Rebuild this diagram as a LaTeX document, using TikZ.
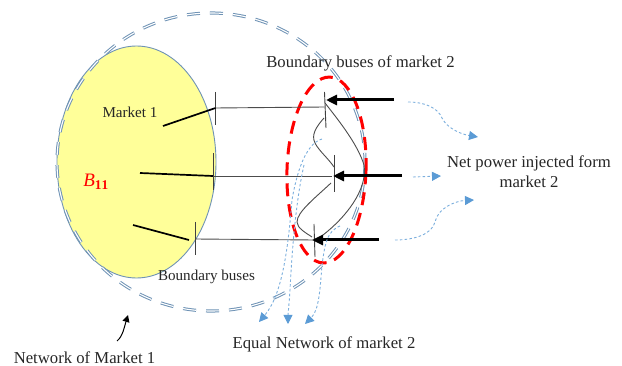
\documentclass[tikz,border=0pt]{standalone}
\usepackage{fontspec}
\setmainfont{Liberation Serif}
\usetikzlibrary{arrows.meta,shapes.geometric}
\definecolor{netblue}{HTML}{6F93B5}
\definecolor{flowblue}{HTML}{5B9BD5}
\definecolor{marketyellow}{HTML}{FFFF99}
\tikzset{
  lbl/.style={inner sep=0pt,text=black!85,font=\fontsize{16.7}{19}\selectfont},
  lblsmall/.style={inner sep=0pt,text=black!85,font=\fontsize{15.1}{17}\selectfont},
  busbar/.style={draw=black!75,line width=0.9pt},
  tie/.style={draw=black!70,line width=0.9pt},
  feeder/.style={draw=black,line width=1.7pt},
  inject/.style={draw=black,line width=3pt,-{Triangle[length=11pt,width=10pt]}},
  inner curve/.style={draw=black!70,line width=0.9pt},
  flow/.style={draw=flowblue!80,line width=0.9pt,dash pattern=on 2.6pt off 2.2pt,-{Triangle[length=9pt,width=9pt,color=flowblue,fill=flowblue]}},
  netline/.style={draw=netblue,double=white,double distance=1.1pt,line width=1pt,dash pattern=on 13pt off 10pt},
}
\begin{document}
\begin{tikzpicture}[x=1pt,y=-1pt]
\useasboundingbox (0,0) rectangle (622,366);
% market 1 region
\node[draw=netblue,fill=marketyellow,line width=0.9pt,ellipse,minimum width=159pt,minimum height=232pt,inner sep=0pt] (m1) at (136.5,162) {};
% network of market 1
\draw[netline] (211,162) ellipse [x radius=154,y radius=149];
% equal network
\draw[draw=red,line width=3pt,dash pattern=on 13pt off 8pt,rotate around={-2:(326,170)}] (326.5,170) ellipse [x radius=39.5,y radius=93];
% named points
\coordinate (a1t) at (215.5,92);  \coordinate (a1b) at (215.5,125);
\coordinate (a2t) at (213,153);   \coordinate (a2b) at (213,190);
\coordinate (a3t) at (195,222);   \coordinate (a3b) at (195,255);
\coordinate (b1t) at (324.5,92);  \coordinate (b1b) at (326,128);
\coordinate (b2t) at (334.5,155); \coordinate (b2b) at (334.5,192);
\coordinate (b3t) at (314,224);   \coordinate (b3b) at (315,257);
\coordinate (a1) at (215.5,108);  \coordinate (b1) at (324.5,107);
\coordinate (a2) at (213,176);    \coordinate (b2) at (332,176);
\coordinate (a3) at (195,239);    \coordinate (b3) at (314,240);
\coordinate (f1) at (163,126);
\coordinate (f2) at (140,173);
\coordinate (f3) at (133,225);
\coordinate (f3e) at (189,240);
\coordinate (i1) at (394,100);    \coordinate (j1) at (326,100);
\coordinate (i2) at (402,176);    \coordinate (j2) at (333,176);
\coordinate (i3) at (379,240);    \coordinate (j3) at (312,240);
% buses
\foreach \s/\e in {a1t/a1b,a2t/a2b,a3t/a3b,b1t/b1b,b2t/b2b,b3t/b3b}{\draw[busbar] (\s) -- (\e);}
% ties and feeders
\draw[tie] (a1) -- (b1);
\draw[tie] (a2) -- (b2);
\draw[tie] (a3) -- (b3);
\draw[feeder] (f1) -- (a1);
\draw[feeder] (f2) -- (a2);
\draw[feeder] (f3) -- (f3e);
% inner network
\draw[inner curve] (324,118) .. controls (316,127) and (311,135) .. (315,143) .. controls (319,151) and (328,158) .. (334,167);
\draw[inner curve] (325,103) .. controls (340,122) and (358,145) .. (364,165) .. controls (368,190) and (345,218) .. (323,235);
\draw[inner curve] (331,183) .. controls (315,198) and (297,212) .. (297,222) .. controls (297,228) and (306,233) .. (312,237);
% injections
\draw[inject] (i1) -- (j1);
\draw[inject] (i2) -- (j2);
\draw[inject] (i3) -- (j3);
% flows to right
\draw[flow] (408,102) .. controls (425,102) and (438,108) .. (442,118) .. controls (447,128) and (460,134) .. (478,137);
\draw[flow] (413,177) -- (441,176);
\draw[flow] (395,240) .. controls (415,240) and (432,234) .. (435,222) .. controls (438,208) and (455,201) .. (474,200);
% flows downward
\draw[flow] (322,139) .. controls (308,143) and (298,165) .. (292,200) .. controls (288,250) and (282,295) .. (259,322);
\draw[flow] (304,165) .. controls (296,200) and (292,250) .. (290,290) .. controls (289,305) and (288,315) .. (288,324);
\draw[flow] (340,226) .. controls (326,232) and (325,245) .. (322,265) .. controls (320,290) and (319,310) .. (305,324);
% small arrow
\coordinate (na) at (117,341);
\coordinate (nb) at (128,315);
\draw[draw=black,line width=1pt,-{Triangle[length=7pt,width=7pt]}] (na) .. controls (123,336) and (124,328) .. (nb);
% labels
\node[lbl] (t1) at (360.5,63) {Boundary buses of market 2};
\node[lblsmall] (t2) at (130,112) {Market 1};
\node[lblsmall] (t3) at (206.5,277) {Boundary buses};
\node[lbl] (t4) at (84.5,358) {Network of Market 1};
\node[lbl] (t5) at (324,344) {Equal Network of market 2};
\node[lbl,align=center] (t6) at (529,171.5) {Net power injected form\\[1pt]market 2};
\node[inner sep=0pt,text=red,font=\fontsize{19}{21}\selectfont] (t7) at (96,182) {$\mathit{B}_{\mathbf{11}}$};
\end{tikzpicture}
\end{document}
